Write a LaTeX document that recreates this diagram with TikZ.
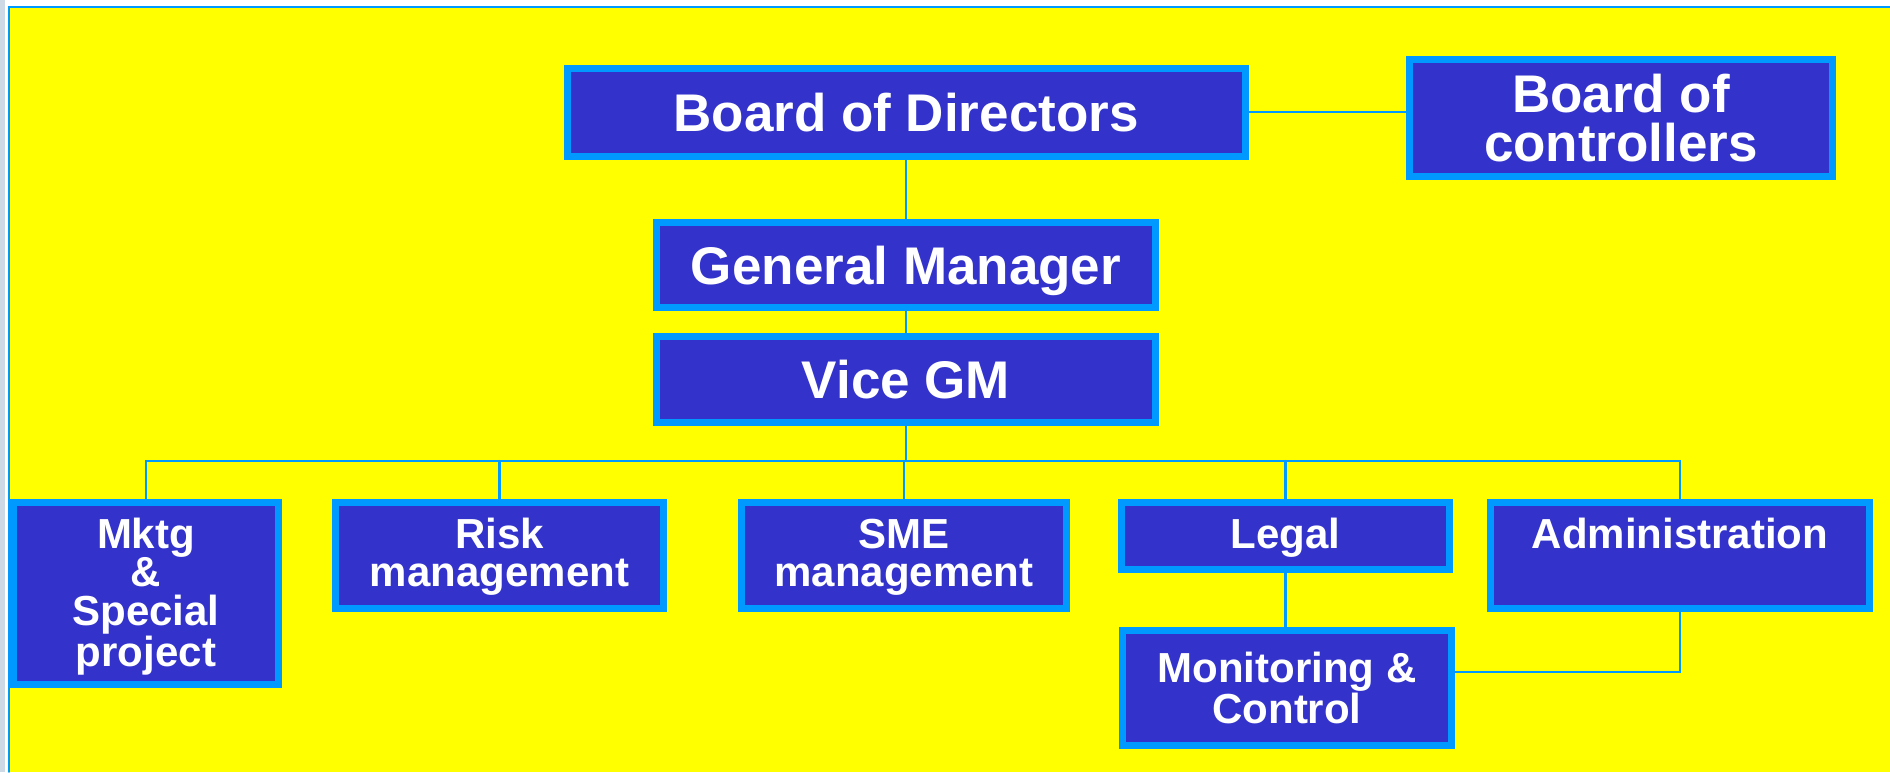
\documentclass[tikz,border=0pt]{standalone}
\usepackage{fontspec}
\setmainfont{Liberation Sans}
\usetikzlibrary{positioning}

\definecolor{chartyellow}{RGB}{255,255,0}
\definecolor{boxblue}{RGB}{51,51,204}
\definecolor{rimblue}{RGB}{0,153,255}
\definecolor{edgegray}{RGB}{205,218,230}

\begin{document}
\begin{tikzpicture}
		[x=0.5pt,y=-0.5pt,line cap=round,
		%Styles
		orgbox/.style={draw=rimblue,fill=boxblue,line width=3.5pt,text=white,inner sep=0pt,align=center},
		topbox/.style={orgbox,font=\fontsize{26.5pt}{23pt}\selectfont\bfseries},
		oneline/.style={topbox,text height=19pt,text depth=0pt},
		dept/.style 2 args={orgbox,font=\fontsize{21pt}{19.4pt}\selectfont\bfseries,
			minimum width=#1,text width=#1,text height=22.75pt,text depth=#2},
		link/.style={draw=rimblue,line width=1.2pt}
		]
		
		%Page
		\useasboundingbox (0,0) rectangle (1890,772);
		\fill[white] (0,0) rectangle (1890,772);
		\fill[edgegray] (0,0) rectangle (5,772);
		\fill[chartyellow] (9,7) rectangle (1890,772);
		\draw[rimblue,line width=0.8pt] (9,772) -- (9,7) -- (1890,7);
		
		%Top of the chart
		\node[oneline,minimum width=339pt,minimum height=44pt] (bod) at (906,112) {Board of Directors};
		\node[topbox,minimum width=211.5pt,minimum height=58.5pt] (boc) at (1621,118) {Board of\\[1.5pt]controllers};
		\node[oneline,minimum width=249.5pt,minimum height=42.5pt] (gm) at (906,265) {General Manager};
		\node[oneline,minimum width=249.5pt,minimum height=43pt] (vgm) at (906,379.5) {Vice GM};
		
		%Departments
		\node[dept={132.5pt}{68.25pt}] (mktg) at (146,593.5) {Mktg\\\&\\Special\\project};
		\node[dept={164pt}{30.25pt}] (risk) at (499.5,555.5) {Risk\\management};
		\node[dept={162.5pt}{30.25pt}] (sme) at (904,555.5) {SME\\management};
		\node[dept={164pt}{10.75pt}] (legal) at (1285.5,536) {Legal};
		\node[dept={189.5pt}{30.25pt}] (admin) at (1680,555.5) {Administration};
		\node[orgbox,font=\fontsize{21pt}{19.4pt}\selectfont\bfseries,
			minimum width=164.5pt,minimum height=57.5pt] (monitor) at (1287,688) {Monitoring \&\\Control};
		
		%Lines
		\coordinate (bus) at (906,461);
		\draw[link] (bod.east) -- (bod.east -| boc.west);
		\draw[link] (bod.south) -- (gm.north);
		\draw[link] (gm.south) -- (vgm.north);
		\draw[link] (vgm.south) -- (bus);
		\draw[link] (mktg.north) |- (bus -| admin.north) -- (admin.north);
		\foreach \d in {risk,sme,legal}
			\draw[link] (\d.north) -- (\d.north |- bus);
		\draw[link] (legal.south) -- (legal.south |- monitor.north);
		\draw[link] (admin.south) |- ([yshift=8pt]monitor.east);
	\end{tikzpicture}
\end{document}
